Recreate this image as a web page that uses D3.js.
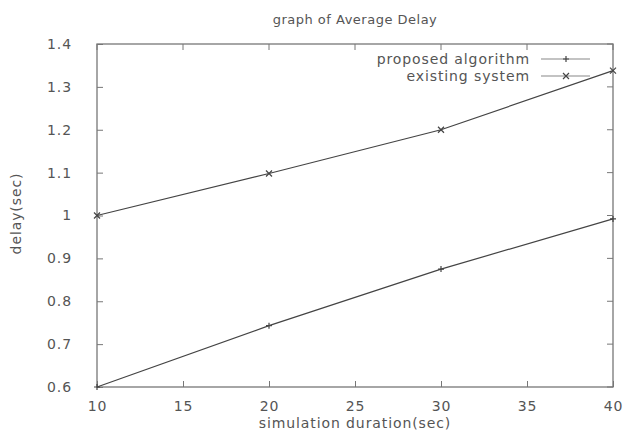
<!DOCTYPE html>
<html>
<head>
<meta charset="utf-8">
<script src="https://cdn.jsdelivr.net/npm/d3@7"></script>
<style>
  body { margin: 0; background: #fff; }
  svg text { font-family: "DejaVu Sans", sans-serif; fill: #555; }
</style>
</head>
<body>
<svg width="624" height="441"></svg>
<script>
const svg = d3.select("svg");
const width = 624;
const height = 441;

// data
const durations = [10, 20, 30, 40];
const proposed = [0.6, 0.743, 0.875, 0.992];
const existing = [1.0, 1.098, 1.2, 1.338];
const xTicks = [10, 15, 20, 25, 30, 35, 40];
const yTicks = [0.6, 0.7, 0.8, 0.9, 1.0, 1.1, 1.2, 1.3, 1.4];
const seriesNames = ["proposed algorithm", "existing system"];

const margin = { top: 44, right: 11, bottom: 54, left: 97 };
const innerWidth = width - margin.left - margin.right;
const innerHeight = height - margin.top - margin.bottom;

const lineColor = '#444';
const frameColor = '#777';
const fontSize = 14;
const spacing = '0.9px';

const xScale = d3.scaleLinear()
  .domain([10, 40])
  .range([0, innerWidth]);

const yScale = d3.scaleLinear()
  .domain([0.6, 1.4])
  .range([innerHeight, 0]);

const g = svg.append('g')
  .attr('transform', `translate(${margin.left},${margin.top})`);

// title
svg.append('text')
  .text('graph of Average Delay')
  .attr('x', margin.left + innerWidth / 2)
  .attr('y', 24)
  .attr('text-anchor', 'middle')
  .attr('font-size', 13)
  .attr('letter-spacing', '0.5px');

// axes, ticks pointing inward and mirrored
const yTickFormat = d => d === 1 ? '1' : d3.format('.1f')(d);

g.append('g')
  .attr('class', 'yaxis')
  .call(d3.axisLeft(yScale).tickValues(yTicks).tickSize(-6).tickFormat(yTickFormat).tickPadding(25));
g.append('g')
  .attr('class', 'xaxis')
  .attr('transform', `translate(0,${innerHeight})`)
  .call(d3.axisBottom(xScale).tickValues(xTicks).tickSize(-6).tickPadding(14));

// mirrored tick marks on the right and top
g.append('g').selectAll('line').data(yTicks).join('line')
  .attr('x1', innerWidth).attr('x2', innerWidth - 6)
  .attr('y1', d => yScale(d)).attr('y2', d => yScale(d))
  .attr('stroke', frameColor);
g.append('g').selectAll('line').data(xTicks).join('line')
  .attr('x1', d => xScale(d)).attr('x2', d => xScale(d))
  .attr('y1', 0).attr('y2', 6)
  .attr('stroke', frameColor);

g.selectAll('.domain').remove();
g.selectAll('.tick line').attr('stroke', frameColor);
g.selectAll('.tick text')
  .attr('font-size', fontSize)
  .attr('letter-spacing', spacing)
  .attr('font-family', '"DejaVu Sans", sans-serif')
  .attr('fill', '#555');

// frame
g.append('rect')
  .attr('width', innerWidth)
  .attr('height', innerHeight)
  .attr('fill', 'none')
  .attr('stroke', frameColor)
  .attr('stroke-width', 1.3);

// axis titles
svg.append('text')
  .text('simulation duration(sec)')
  .attr('x', margin.left + innerWidth / 2)
  .attr('y', 428)
  .attr('text-anchor', 'middle')
  .attr('font-size', fontSize)
  .attr('letter-spacing', spacing);

svg.append('text')
  .text('delay(sec)')
  .attr('transform', `translate(21,${margin.top + innerHeight / 2 - 2}) rotate(-90)`)
  .attr('text-anchor', 'middle')
  .attr('font-size', fontSize)
  .attr('letter-spacing', spacing);

// lines
const series = [
  { name: seriesNames[0], values: proposed, marker: 'plus' },
  { name: seriesNames[1], values: existing, marker: 'cross' }
];

const line = d3.line()
  .x((d, i) => xScale(durations[i]))
  .y(d => yScale(d));

const drawMarker = (sel, type, x, y) => {
  const s = 3;
  if (type === 'plus') {
    sel.append('path')
      .attr('d', `M${x - s},${y}H${x + s}M${x},${y - s}V${y + s}`);
  } else {
    sel.append('path')
      .attr('d', `M${x - s},${y - s}L${x + s},${y + s}M${x - s},${y + s}L${x + s},${y - s}`);
  }
};

series.forEach(s => {
  g.append('path')
    .datum(s.values)
    .attr('d', line)
    .attr('fill', 'none')
    .attr('stroke', lineColor)
    .attr('stroke-width', 1.2);

  const markers = g.append('g')
    .attr('stroke', lineColor)
    .attr('stroke-width', 1.2);
  s.values.forEach((v, i) => drawMarker(markers, s.marker, xScale(durations[i]), yScale(v)));
});

// legend
const legend = svg.append('g')
  .attr('transform', 'translate(530,0)');

series.forEach((s, i) => {
  const y = 59 + i * 17;
  legend.append('text')
    .text(s.name)
    .attr('x', 0)
    .attr('y', y + 5)
    .attr('text-anchor', 'end')
    .attr('font-size', fontSize)
    .attr('letter-spacing', spacing);
  legend.append('line')
    .attr('x1', 11)
    .attr('x2', 60)
    .attr('y1', y)
    .attr('y2', y)
    .attr('stroke', '#888')
    .attr('stroke-width', 1.2);
  const mk = legend.append('g')
    .attr('stroke', lineColor)
    .attr('stroke-width', 1.2);
  drawMarker(mk, s.marker, 36, y);
});
</script>
</body>
</html>
